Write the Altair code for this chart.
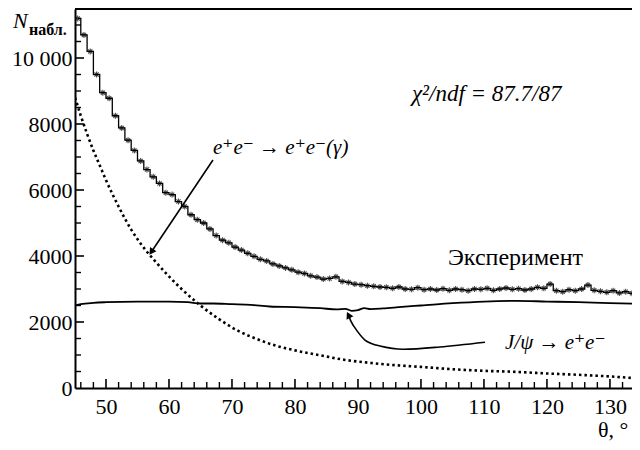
import altair as alt
import pandas as pd

# ---- data ----
bin_centers = [45.5 + i for i in range(90)]
exp_counts = [11200, 10700, 10200, 9500, 8950, 8780, 8250, 7880, 7510, 7200,
              6880, 6620, 6400, 6200, 5920, 5860, 5650, 5500, 5250, 5100,
              5000, 4820, 4620, 4480, 4400, 4270, 4180, 4080, 3990, 3900,
              3850, 3760, 3700, 3640, 3580, 3510, 3470, 3400, 3360, 3300,
              3320, 3370, 3230, 3200, 3150, 3130, 3100, 3080, 3060, 3050,
              3020, 3060, 3000, 2990, 3040, 2980, 3000, 2970, 3010, 2960,
              3000, 2980, 2950, 3000, 2990, 3020, 2960, 3000, 3030, 2990,
              3010, 2970, 3000, 3050, 3020, 3150, 2950, 2920, 2980, 2950,
              3000, 3120, 2960, 2930, 2900, 2950, 2880, 2920, 2870, 2850]

bhabha_theta = [45.1, 46, 47, 48, 49, 50, 52, 54, 56, 58, 60, 62, 65, 68, 71,
                74, 77, 80, 84, 88, 92, 96, 100, 105, 110, 115, 120, 125, 130, 134.5]
bhabha_counts = [8800, 8250, 7700, 7200, 6750, 6300, 5500, 4800, 4250, 3800, 3380,
                 3000, 2500, 2080, 1730, 1480, 1280, 1140, 990, 850, 760, 690, 640,
                 570, 520, 490, 440, 400, 350, 290]

jpsi_theta = [45.1, 46, 48, 50, 55, 60, 63, 65, 67, 70, 73, 76, 80, 84, 86.6, 88,
              89, 90, 91, 92, 94, 97, 100, 105, 110, 115, 120, 125, 130, 134.5]
jpsi_counts = [2500, 2540, 2580, 2600, 2620, 2620, 2600, 2560, 2560, 2540, 2520,
               2470, 2450, 2420, 2380, 2400, 2340, 2360, 2420, 2390, 2410, 2460,
               2500, 2570, 2620, 2640, 2620, 2600, 2570, 2550]

x_major_ticks = [50, 60, 70, 80, 90, 100, 110, 120, 130]
x_minor_ticks = [46, 48, 52, 54, 56, 58, 62, 64, 66, 68, 72, 74, 76, 78, 82, 84, 86, 88,
                 92, 94, 96, 98, 102, 104, 106, 108, 112, 114, 116, 118, 122, 124,
                 126, 128, 132]
y_major_ticks = [0, 2000, 4000, 6000, 8000, 10000]
y_minor_ticks = [500, 1000, 1500, 2500, 3000, 3500, 4500, 5000, 5500, 6500, 7000,
                 7500, 8500, 9000, 9500, 10500, 11000]

arrow1_theta = [66.98, 57.3]
arrow1_counts = [6909, 4151]
arrow2_theta = [110.16, 103.0, 97.14, 93.49, 91.11, 89.21, 88.57]
arrow2_counts = [1385, 1242, 1173, 1273, 1454, 1909, 2182]

# ---- layout ----
W, H = 557, 379
X_DOM = [45.08, 133.5]
Y_DOM = [0, 11485]
FONT = "Liberation Serif, Times New Roman, DejaVu Serif, serif"

xs = alt.Scale(domain=X_DOM, nice=False, zero=False)
ys = alt.Scale(domain=Y_DOM, nice=False)
x_axis = alt.Axis(values=x_major_ticks, title=None, ticks=False, grid=False,
                  labelFont=FONT, labelFontSize=22, labelPadding=8,
                  domainColor="black", domainWidth=2, labelColor="black")
y_axis = alt.Axis(values=y_major_ticks, title=None, ticks=False, grid=False,
                  labelFont=FONT, labelFontSize=22, labelPadding=3,
                  domainColor="black", domainWidth=2, labelColor="black",
                  labelExpr="datum.value >= 10000 ? replace(format(datum.value, ',d'), ',', ' ') : format(datum.value, 'd')")


def X(f="theta"):
    return alt.X(f"{f}:Q", scale=xs, axis=x_axis)


def Y(f="N"):
    return alt.Y(f"{f}:Q", scale=ys, axis=y_axis)


exp_df = pd.DataFrame({"theta": bin_centers, "N": exp_counts})
bh_df = pd.DataFrame({"theta": bhabha_theta, "N": bhabha_counts})
jp_df = pd.DataFrame({"theta": jpsi_theta, "N": jpsi_counts})
a1_df = pd.DataFrame({"theta": arrow1_theta, "N": arrow1_counts, "i": [0, 1]})
a2_df = pd.DataFrame({"theta": arrow2_theta, "N": arrow2_counts,
                      "i": list(range(len(arrow2_theta)))})

exp_line = alt.Chart(exp_df).mark_line(interpolate="step", color="black",
                                       strokeWidth=1.3, clip=True).encode(x=X(), y=Y())
asterisk = "M-1,0H1M0,-1V1M-0.7,-0.7L0.7,0.7M-0.7,0.7L0.7,-0.7"
exp_pts = alt.Chart(exp_df).mark_point(shape=asterisk, size=36, color="black",
                                       filled=False, strokeWidth=1.1, clip=True).encode(x=X(), y=Y())
bh_line = alt.Chart(bh_df).mark_line(interpolate="monotone", color="black",
                                     strokeWidth=2.6, strokeDash=[2.5, 3],
                                     clip=True).encode(x=X(), y=Y())
jp_line = alt.Chart(jp_df).mark_line(interpolate="monotone", color="black",
                                     strokeWidth=1.8, clip=True).encode(x=X(), y=Y())

a1_line = alt.Chart(a1_df).mark_line(color="black", strokeWidth=1.6).encode(
    x=X(), y=Y(), order="i:Q")
a1_head = alt.Chart(a1_df[a1_df.i == 1]).mark_point(
    shape="triangle", filled=True, size=60, color="black", angle=214, opacity=1).encode(x=X(), y=Y())
a2_line = alt.Chart(a2_df).mark_line(color="black", strokeWidth=1.6,
                                     interpolate="cardinal").encode(x=X(), y=Y(), order="i:Q")
a2_head = alt.Chart(a2_df[a2_df.i == len(arrow2_theta) - 1]).mark_point(
    shape="triangle", filled=True, size=60, color="black", angle=333, opacity=1).encode(x=X(), y=Y())

# inward ticks
xmaj_df = pd.DataFrame({"theta": x_major_ticks})
xmin_df = pd.DataFrame({"theta": x_minor_ticks})
ymaj_df = pd.DataFrame({"N": y_major_ticks[1:]})
ymin_df = pd.DataFrame({"N": y_minor_ticks})
xmaj = alt.Chart(xmaj_df).mark_rule(color="black", strokeWidth=1.6).encode(
    x=X(), y=alt.value(H), y2=alt.value(H - 9))
xmin = alt.Chart(xmin_df).mark_rule(color="black", strokeWidth=1.4).encode(
    x=X(), y=alt.value(H), y2=alt.value(H - 6))
ymaj = alt.Chart(ymaj_df).mark_rule(color="black", strokeWidth=1.6).encode(
    y=Y(), x=alt.value(0), x2=alt.value(9))
ymin = alt.Chart(ymin_df).mark_rule(color="black", strokeWidth=1.4).encode(
    y=Y(), x=alt.value(0), x2=alt.value(6))
top_border = alt.Chart(xmaj_df.head(1)).mark_rule(color="black", strokeWidth=2).encode(
    x=alt.value(0), x2=alt.value(W), y=alt.value(0))

one = pd.DataFrame({"a": [0]})


def label(txt, px, py, size, style="normal", weight="normal", baseline="middle"):
    return alt.Chart(one).mark_text(
        text=txt, align="left", baseline=baseline, font=FONT, fontSize=size,
        fontStyle=style, fontWeight=weight, color="black").encode(
        x=alt.value(px), y=alt.value(py))


texts = [
    label("χ²/ndf = 87.7/87", 337, 85, 23, "italic"),
    label("e⁺e⁻ → e⁺e⁻(γ)", 138, 139, 21, "italic"),
    label("Эксперимент", 373, 249, 24),
    label("J/ψ → e⁺e⁻", 430, 334, 21, "italic"),
    label("θ, °", 523, 421, 22),
    label("N", -62, 19, 22, "italic", baseline="alphabetic"),
    label("набл.", -46, 26, 16, "normal", "bold", baseline="alphabetic"),
]

chart = alt.layer(
    bh_line, jp_line, exp_line, exp_pts, a1_line, a1_head, a2_line, a2_head,
    xmaj, xmin, ymaj, ymin, top_border, *texts
).properties(
    width=W, height=H,
    padding={"left": 67, "top": 1, "right": 0, "bottom": 60},
    autosize=alt.AutoSizeParams(type="none"),
).configure_view(stroke=None)

chart.save("out.html", embed_options={"renderer": "svg", "actions": False})
